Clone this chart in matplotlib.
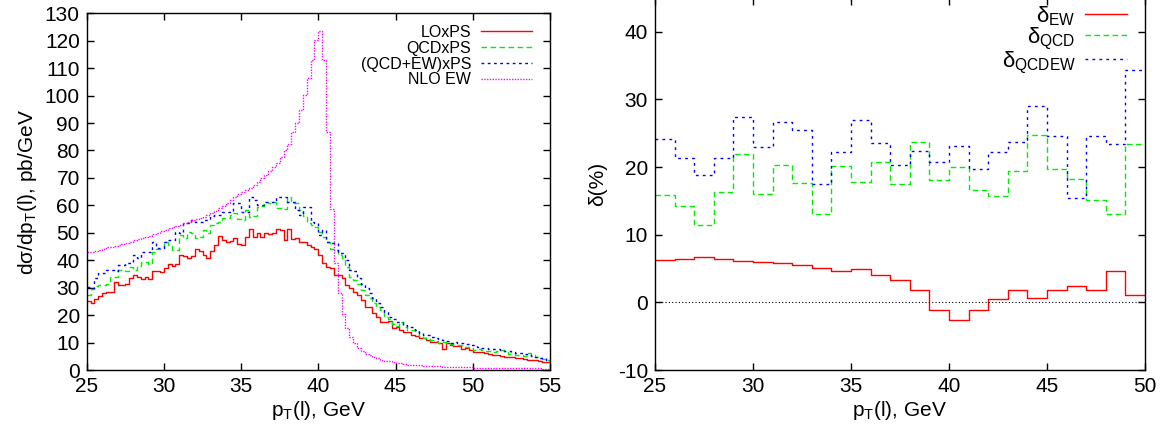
import numpy as np
import matplotlib
matplotlib.use("Agg")
import matplotlib.pyplot as plt

plt.rcParams['font.family'] = ['Liberation Sans', 'DejaVu Sans']
plt.rcParams['mathtext.fontset'] = 'custom'
plt.rcParams['mathtext.rm'] = 'Liberation Sans'
plt.rcParams['mathtext.it'] = 'Liberation Sans:italic'
plt.rcParams['axes.unicode_minus'] = False

# left panel: pT(l) distribution, 0.25 GeV bins from 25 to 55
pt_edges = np.linspace(25, 55, 121)
lo_ps = [
    25.0, 24.6, 26.0, 27.0, 28.0, 28.4, 28.6, 32.0,
    31.0, 30.8, 31.5, 33.5, 34.5, 34.0, 33.0, 33.8,
    33.0, 36.0, 36.0, 35.8, 37.0, 38.5, 38.0, 38.5,
    42.0, 41.5, 40.8, 41.5, 44.0, 43.5, 42.0, 41.0,
    43.5, 45.5, 49.0, 47.5, 46.5, 47.0, 48.0, 45.8,
    45.5, 48.5, 51.5, 48.5, 50.0, 48.5, 50.0, 49.5,
    50.0, 51.5, 51.0, 47.5, 51.5, 47.8, 48.0, 46.5,
    46.5, 45.5, 45.0, 44.0, 42.0, 39.0, 37.6, 37.0,
    34.6, 34.6, 33.5, 31.0, 29.8, 28.5, 27.3, 25.5,
    23.0, 23.0, 20.7, 19.4, 17.6, 17.6, 17.8, 15.3,
    15.8, 14.5, 14.0, 14.0, 12.8, 12.5, 11.7, 11.7,
    11.0, 10.3, 10.3, 10.0, 7.5, 9.8, 9.0, 8.7,
    8.7, 7.5, 8.0, 7.3, 6.7, 6.5, 6.5, 6.1,
    6.0, 5.5, 5.5, 5.2, 4.9, 4.9, 4.6, 4.5,
    4.3, 4.0, 3.8, 3.6, 3.6, 3.3, 3.0, 3.0,
]
qcd_ps = [
    27.3, 29.5, 30.5, 31.0, 31.0, 31.5, 34.0, 34.0,
    36.4, 36.5, 36.0, 37.6, 36.5, 38.0, 39.5, 39.5,
    38.8, 43.0, 44.0, 44.0, 46.8, 45.5, 43.7, 43.7,
    49.2, 48.0, 50.4, 50.0, 48.0, 48.5, 51.0, 50.0,
    52.8, 53.5, 54.0, 55.3, 55.3, 56.5, 57.1, 55.0,
    54.7, 58.3, 55.9, 56.0, 59.5, 59.8, 61.3, 61.0,
    61.3, 59.0, 59.0, 58.5, 62.9, 60.7, 61.0, 58.3,
    56.0, 53.5, 53.0, 52.0, 50.4, 48.5, 46.8, 44.0,
    43.7, 42.0, 40.8, 37.6, 34.0, 32.8, 31.5, 29.2,
    27.5, 26.2, 24.3, 23.0, 21.9, 19.4, 18.5, 16.8,
    16.0, 17.6, 15.5, 14.6, 14.6, 14.0, 12.5, 11.5,
    11.5, 11.0, 10.5, 10.0, 10.2, 10.0, 9.5, 9.0,
    9.2, 9.0, 8.5, 8.0, 7.3, 7.5, 7.3, 7.0,
    6.8, 6.5, 7.0, 7.3, 6.5, 6.0, 5.8, 5.5,
    5.5, 5.0, 6.1, 5.5, 4.8, 4.5, 4.0, 3.5,
]
qcdew_ps = [
    30.4, 30.0, 33.5, 35.3, 35.5, 36.4, 36.4, 36.0,
    38.3, 38.3, 39.0, 39.0, 41.9, 41.0, 43.1, 43.1,
    43.1, 46.8, 44.4, 44.4, 46.8, 47.4, 47.4, 50.4,
    50.0, 53.5, 53.5, 54.7, 54.0, 54.0, 54.7, 54.7,
    56.0, 56.5, 56.5, 57.7, 57.7, 57.7, 60.7, 60.7,
    57.7, 57.7, 63.2, 62.0, 60.1, 60.1, 61.3, 61.3,
    61.3, 62.9, 63.2, 63.2, 61.3, 61.3, 58.3, 56.5,
    59.5, 59.5, 54.0, 53.5, 49.2, 51.0, 46.8, 46.2,
    46.2, 42.5, 42.5, 40.0, 36.4, 36.0, 33.5, 31.5,
    29.8, 28.0, 26.2, 24.3, 23.0, 21.0, 19.4, 18.5,
    17.6, 17.6, 16.5, 15.8, 15.8, 14.5, 13.5, 12.8,
    12.8, 12.2, 11.5, 11.2, 10.8, 10.5, 10.0, 10.2,
    9.8, 10.0, 9.5, 9.1, 9.0, 8.5, 7.9, 8.0,
    7.8, 7.5, 7.5, 7.3, 7.0, 6.8, 6.5, 6.1,
    6.1, 5.8, 5.5, 5.0, 4.9, 4.5, 4.2, 3.7,
]
nlo_ew = [
    43.1, 43.1, 43.5, 43.8, 44.2, 44.7, 44.9, 45.3,
    45.6, 46.0, 46.2, 46.8, 47.3, 47.6, 48.0, 48.6,
    49.0, 49.4, 50.0, 50.5, 51.0, 51.6, 52.0, 52.5,
    53.0, 53.5, 53.9, 54.5, 55.0, 55.5, 55.9, 56.5,
    57.3, 58.0, 58.9, 59.8, 60.8, 61.8, 63.0, 64.0,
    64.8, 65.6, 66.5, 67.5, 68.6, 69.8, 71.0, 72.5,
    74.0, 75.5, 77.5, 80.0, 82.5, 86.8, 89.9, 94.8,
    100.2, 106.3, 113.0, 120.4, 123.7, 113.0, 86.8, 58.5,
    39.0, 28.0, 20.5, 15.3, 12.0, 9.8, 8.0, 7.0,
    6.0, 5.5, 4.8, 4.3, 3.8, 3.4, 3.1, 2.9,
    2.6, 2.4, 2.2, 2.0, 1.9, 1.8, 1.7, 1.6,
    1.5, 1.45, 1.4, 1.3, 1.25, 1.2, 1.15, 1.1,
    1.05, 1.0, 1.0, 0.95, 0.9, 0.9, 0.85, 0.85,
    0.8, 0.8, 0.75, 0.75, 0.7, 0.7, 0.7, 0.65,
    0.65, 0.6, 0.6, 0.6, 0.55, 0.55, 0.5, 0.5,
]

# right panel: relative corrections in %, 1 GeV bins from 25 to 50
delta_edges = np.linspace(25, 50, 26)
delta_ew = [6.3, 6.45, 6.7, 6.4, 6.1, 5.9, 5.85, 5.5, 5.15, 4.6, 4.9, 4.0, 3.35,
            1.9, -1.1, -2.6, -1.1, 0.55, 1.8, 0.65, 1.85, 2.4, 1.9, 4.7, 1.1]
delta_qcd = [15.9, 14.2, 11.4, 16.3, 21.9, 16.05, 20.25, 17.7, 13.1, 20.15, 17.8, 20.75, 17.5,
             23.75, 18.1, 19.95, 16.65, 15.75, 19.35, 24.7, 19.75, 18.3, 15.1, 13.1, 23.45]
delta_qcdew = [24.2, 21.4, 18.9, 21.4, 27.4, 22.95, 26.65, 25.45, 17.55, 22.25, 27.0, 23.55, 20.25,
               22.4, 20.8, 23.05, 19.75, 22.25, 23.7, 29.05, 24.6, 15.4, 24.65, 23.35, 34.35]


def hist_line(ax, edges, values, **kw):
    vals = np.append(values, values[-1])
    return ax.step(edges, vals, where='post', **kw)


def style_axes(ax):
    for sp in ax.spines.values():
        sp.set_linewidth(1.0)
    ax.tick_params(direction='in', length=5, width=1.0, top=True, right=True,
                   labelsize=15, pad=5)


fig = plt.figure(figsize=(11.64, 4.36), dpi=100)

# ---- left panel ----
ax1 = fig.add_axes([86.7 / 1164, 66 / 436, 463.3 / 1164, 356.7 / 436])
hist_line(ax1, pt_edges, lo_ps, color='#ff0000', lw=1.0, label='LOxPS')
hist_line(ax1, pt_edges, qcd_ps, color='#00ee00', lw=1.0, dashes=(4, 2.5), label='QCDxPS')
hist_line(ax1, pt_edges, qcdew_ps, color='#0000ff', lw=1.0, dashes=(2, 2.5), label='(QCD+EW)xPS')
hist_line(ax1, pt_edges, nlo_ew, color='#ff00ff', lw=1.0, dashes=(1, 1), label='NLO EW')
ax1.set_xlim(25, 55)
ax1.set_ylim(0, 130)
ax1.set_xticks(np.arange(25, 56, 5))
ax1.set_yticks(np.arange(0, 131, 10))
style_axes(ax1)
ax1.set_xlabel(r'p$_{\mathregular{T}}$(l), GeV', fontsize=15, labelpad=2)
ax1.set_ylabel(r'd$\mathregular{\sigma}$/dp$_{\mathregular{T}}$(l), pb/GeV', fontsize=15, labelpad=4)
ax1.legend(loc='upper right', frameon=False, markerfirst=False, fontsize=11.5,
           handlelength=3.2, handletextpad=0.6, labelspacing=0.05,
           borderaxespad=0.6, bbox_to_anchor=(0.995, 1.012))

# ---- right panel ----
ax2 = fig.add_axes([655 / 1164, 66 / 436, 490 / 1164, 372 / 436])
hist_line(ax2, delta_edges, delta_ew, color='#ff0000', lw=1.0, label=r'δ$_{\mathregular{EW}}$')
hist_line(ax2, delta_edges, delta_qcd, color='#00ee00', lw=1.0, dashes=(4, 2.5), label=r'δ$_{\mathregular{QCD}}$')
hist_line(ax2, delta_edges, delta_qcdew, color='#0000ff', lw=1.0, dashes=(2, 3), label=r'δ$_{\mathregular{QCDEW}}$')
ax2.axhline(0, color='black', lw=0.8, dashes=(1, 2))
ax2.set_xlim(25, 50)
ax2.set_ylim(-10, 45)
ax2.set_xticks(np.arange(25, 51, 5))
ax2.set_yticks(np.arange(-10, 41, 10))
style_axes(ax2)
ax2.set_xlabel(r'p$_{\mathregular{T}}$(l), GeV', fontsize=15, labelpad=2)
ax2.set_ylabel('δ(%)', fontsize=15, labelpad=8)
ax2.legend(loc='upper right', frameon=False, markerfirst=False, fontsize=16,
           handlelength=1.9, handletextpad=0.4, labelspacing=-0.1,
           borderaxespad=0.3, bbox_to_anchor=(0.995, 1.025))

fig.savefig('out.png', dpi=100)
plt.close(fig)
